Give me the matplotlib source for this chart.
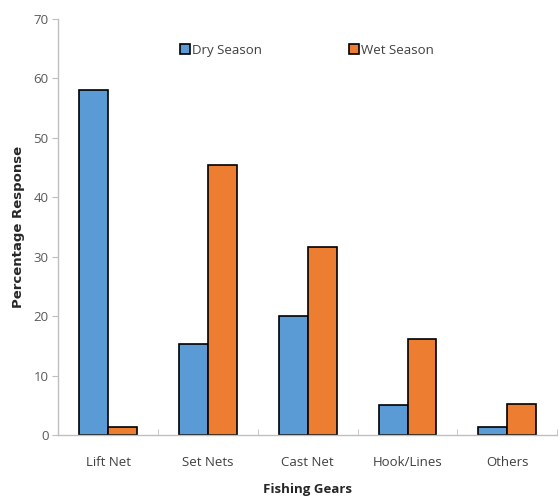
import matplotlib
matplotlib.use("Agg")
import matplotlib.pyplot as plt
import numpy as np

gears = ["Lift Net", "Set Nets", "Cast Net", "Hook/Lines", "Others"]
dry_season = [58.0, 15.3, 20.1, 5.1, 1.3]
wet_season = [1.3, 45.5, 31.6, 16.1, 5.3]
series_names = ["Dry Season", "Wet Season"]
y_ticks = [0, 10, 20, 30, 40, 50, 60, 70]

plt.rcParams['font.family'] = ['Open Sans', 'DejaVu Sans']

fig = plt.figure(figsize=(5.6, 4.99), dpi=100)
ax = fig.add_axes([0.104, 0.128, 0.891, 0.834])

x = np.arange(len(gears))
width = 0.29

ax.bar(x - width / 2, dry_season, width, color="#5b9bd5", edgecolor="black",
       linewidth=1.2, label=series_names[0])
ax.bar(x + width / 2, wet_season, width, color="#ed7d31", edgecolor="black",
       linewidth=1.2, label=series_names[1])

ax.set_xlim(-0.5, len(gears) - 0.5)
ax.set_ylim(0, 70)
ax.set_yticks(y_ticks)
ax.set_xticks(x)
ax.set_xticklabels(gears)
ax.set_xticks(np.arange(len(gears) + 1) - 0.5, minor=True)

ax.tick_params(axis="x", which="major", length=0, pad=15, labelsize=9.5, labelcolor="#404040")
ax.tick_params(axis="x", which="minor", length=4, color="#bfbfbf", direction="in")
ax.tick_params(axis="y", length=4, color="#bfbfbf", labelsize=9.5, labelcolor="#595959", pad=3)

for side in ["top", "right"]:
    ax.spines[side].set_visible(False)
for side in ["left", "bottom"]:
    ax.spines[side].set_color("#bfbfbf")
    ax.spines[side].set_linewidth(1.0)

ax.set_ylabel("Percentage Response", fontsize=9.5, fontweight="bold", color="#262626",
              family=["DejaVu Sans"], labelpad=6)
ax.set_xlabel("Fishing Gears", fontsize=9.5, fontweight="bold", color="#262626", labelpad=10)

leg = ax.legend(loc="center left", bbox_to_anchor=(0.245, 0.925), ncol=2, frameon=False,
                fontsize=9.5, handlelength=0.7, handleheight=0.7, handletextpad=0.2,
                columnspacing=6.6, labelcolor="#404040", borderpad=0, borderaxespad=0)

fig.savefig("out.png", dpi=100)
